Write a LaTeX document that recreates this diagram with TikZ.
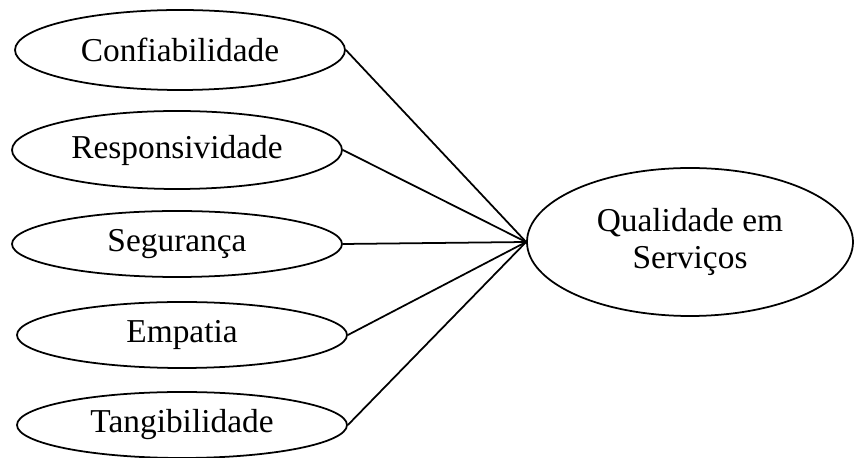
\documentclass[tikz,border=0pt]{standalone}
\usepackage{fontspec}
\setmainfont{Liberation Serif}
\usetikzlibrary{positioning, shapes.geometric}

\begin{document}
\begin{tikzpicture}[
    dimensao/.style  = {ellipse, draw=black, line width=1pt, fill=white,
                        minimum width=6.6cm, minimum height=1.32cm,
                        inner sep=0pt, align=center,
                        font=\fontsize{19}{21}\selectfont},
    construto/.style = {dimensao, minimum width=6.52cm, minimum height=2.96cm},
    ligacao/.style   = {draw=black, line width=1pt},
  ]
  \useasboundingbox (0,0) rectangle (17.08,-9.16);

  %-------------------------------------------------- dimensoes
  \node[dimensao, minimum height=1.6cm]  (conf) at (3.60,-1.00) {Confiabilidade};
  \node[dimensao, minimum height=1.56cm] (resp) at (3.54,-3.00) {Responsividade};
  \node[dimensao] (segu) at (3.54,-4.88) {Segurança};
  \node[dimensao] (empa) at (3.64,-6.70) {Empatia};
  \node[dimensao] (tang) at (3.64,-8.50) {Tangibilidade};

  %-------------------------------------------------- construto
  \node[construto] (qual) at (13.80,-4.84) {Qualidade em\\Serviços};

  %-------------------------------------------------- ligacoes
  \foreach \d in {conf, resp, segu, empa, tang}
    \draw[ligacao] (\d.east) -- (qual.west);
\end{tikzpicture}
\end{document}
